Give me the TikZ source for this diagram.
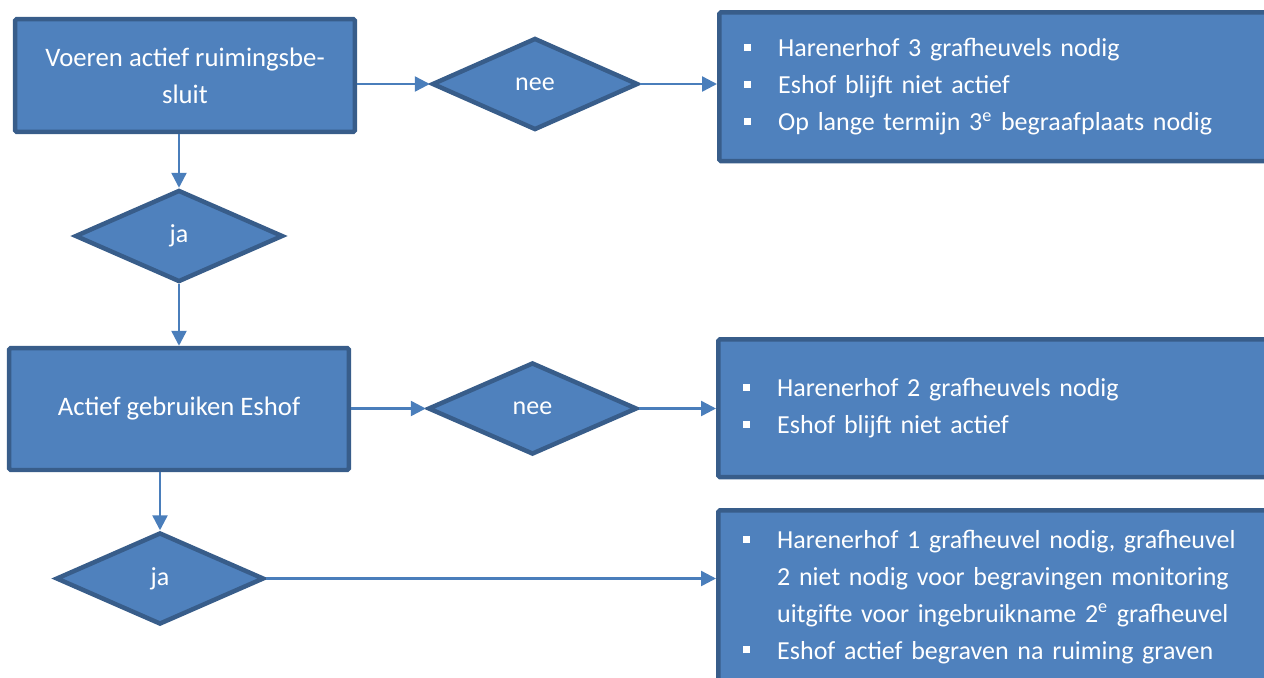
\documentclass[tikz,border=0pt]{standalone}
\usepackage{fontspec}
\setmainfont{Carlito}
\usetikzlibrary{shapes.geometric,arrows.meta,positioning}
\definecolor{vulblauw}{HTML}{4F81BD}
\definecolor{randblauw}{HTML}{385D8A}
\definecolor{pijlblauw}{HTML}{4A7EBB}
% one bullet line with hanging indent
\newcommand{\punt}[1]{\hangindent=0.68cm\hangafter=1\noindent\makebox[0.68cm][l]{\rule[0.115cm]{0.14cm}{0.14cm}}#1\par}

\begin{document}
\begin{tikzpicture}
  [
  x=0.02cm, y=-0.02cm,
  font=\fontsize{14.8pt}{21pt}\selectfont, text=white,
  blok/.style={rectangle, draw=randblauw, fill=vulblauw, line width=0.09cm, rounded corners=1pt, align=center, minimum width=6.8cm, font=\fontsize{15.2pt}{21pt}\selectfont},
  keuze/.style={diamond, draw=randblauw, fill=vulblauw, line width=0.09cm, inner sep=0pt, minimum width=4.16cm, minimum height=1.84cm},
  lijst/.style={rectangle, draw=randblauw, fill=vulblauw, line width=0.09cm, rounded corners=1pt, anchor=north west, text width=11.2cm, align=left, inner xsep=0.5cm},
  pijl/.style={draw=pijlblauw, line width=1.4pt, -{Triangle[length=0.3cm,width=0.3cm]}}
  ]
\useasboundingbox (0,0) rectangle (1264,677);
\clip (0,0) rectangle (1264,677);

% left column
\node[blok, minimum height=2.26cm] (besluit) at (185,75.5) {Voeren actief ruimingsbe-\\sluit};
\node[keuze] (ja1) at (179,236) {ja};
\node[blok, minimum height=2.44cm] (eshof) at (179,409) {Actief gebruiken Eshof};
\node[keuze] (ja2) at (160,578.5) {ja};

% middle column
\node[keuze, minimum width=4.12cm] (nee1) at (535,84) {nee};
\node[keuze, minimum width=4.18cm] (nee2) at (532.5,408.5) {nee};

% right column
\node[lijst, minimum height=2.98cm] (gevolg1) at (717,10) {%
  \punt{Harenerhof 3 grafheuvels nodig}
  \punt{Eshof blijft niet actief}
  \punt{Op lange termijn 3\textsuperscript{e} begraafplaats nodig}};
\node[lijst, minimum height=2.76cm] (gevolg2) at (716,337) {%
  \punt{Harenerhof 2 grafheuvels nodig}
  \punt{Eshof blijft niet actief}};
\node[lijst, minimum height=3.46cm] (gevolg3) at (716,508) {%
  \punt{Harenerhof 1 grafheuvel nodig, grafheuvel\newline 2 niet nodig voor begravingen monitoring\newline uitgifte voor ingebruikname 2\textsuperscript{e} grafheuvel}
  \punt{Eshof actief begraven na ruiming graven}};

% connectors
\draw[pijl] (besluit.south -| ja1.north) -- (ja1.north);
\draw[pijl] (ja1.south) -- (eshof.north);
\draw[pijl] (eshof.south -| ja2.north) -- (ja2.north);
\draw[pijl] (besluit.east |- nee1.west) -- (nee1.west);
\draw[pijl] (eshof.east |- nee2.west) -- (nee2.west);
\draw[pijl] (nee1.east) -- (nee1.east -| gevolg1.west);
\draw[pijl] (nee2.east) -- (nee2.east -| gevolg2.west);
\draw[pijl] (ja2.east) -- (ja2.east -| gevolg3.west);
\end{tikzpicture}
\end{document}
